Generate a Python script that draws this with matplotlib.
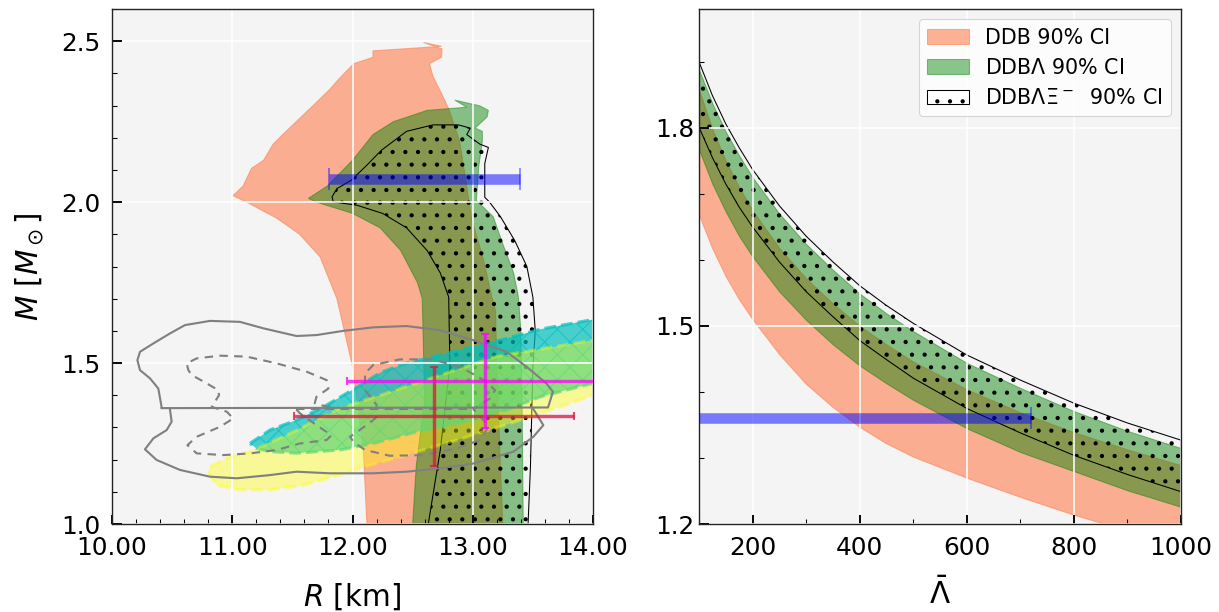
import numpy as np
import matplotlib
matplotlib.use("Agg")
import matplotlib.pyplot as plt
from matplotlib.patches import Patch
from matplotlib.ticker import MultipleLocator, FormatStrFormatter

# ---------------- left panel: M-R plane ----------------
# DDB 90% CI region (polygon R, M)
ddb_R = [12.12, 12.09, 12.00, 11.87, 11.73, 11.56, 11.37, 11.12, 11.006, 11.09, 11.16, 11.26,
         11.34, 11.42, 11.56, 11.70, 11.81, 11.88, 12.01, 12.17, 12.17, 12.74, 12.59, 12.745,
         12.74, 12.64, 12.67, 12.75, 12.80, 12.89, 12.95, 12.99, 13.09, 13.15, 13.19, 13.20,
         13.23, 13.25]
ddb_M = [1.00, 1.23, 1.49, 1.70, 1.83, 1.90, 1.95, 2.00, 2.02, 2.05, 2.105, 2.13,
         2.18, 2.21, 2.26, 2.31, 2.35, 2.38, 2.43, 2.45, 2.47, 2.484, 2.496, 2.476,
         2.45, 2.43, 2.39, 2.33, 2.29, 2.19, 2.05, 1.95, 1.82, 1.72, 1.66, 1.49,
         1.18, 1.00]

# DDBLambda 90% CI region
ddbl_R = [12.50, 12.53, 12.60, 12.58, 12.54, 12.40, 12.23, 12.00, 11.70, 11.633, 11.79, 12.00,
          12.17, 12.34, 12.62, 12.95, 12.85, 13.06, 13.13, 13.12, 13.02, 13.08, 13.08, 13.05,
          13.03, 13.17, 13.25, 13.34, 13.38, 13.40, 13.41, 13.42]
ddbl_M = [1.00, 1.18, 1.385, 1.70, 1.75, 1.85, 1.92, 1.965, 2.00, 2.0115, 2.05, 2.13,
          2.21, 2.25, 2.285, 2.295, 2.317, 2.299, 2.285, 2.265, 2.23, 2.22, 2.19, 2.11,
          2.005, 1.955, 1.87, 1.78, 1.705, 1.60, 1.385, 1.00]

# DDBLambdaXi- 90% CI region
ddblx_R = [12.63, 12.73, 12.81, 12.80, 12.73, 12.62, 12.45, 12.25, 12.04, 11.84, 11.83, 11.87,
           11.99, 12.12, 12.24, 12.45, 12.67, 12.88, 12.98, 12.95, 13.06, 13.13, 13.10, 13.10,
           13.14, 13.23, 13.35, 13.45, 13.50, 13.52, 13.50, 13.48, 13.46]
ddblx_M = [1.00, 1.23, 1.49, 1.705, 1.78, 1.85, 1.92, 1.965, 1.99, 2.001, 2.0165, 2.042,
           2.068, 2.115, 2.161, 2.22, 2.24, 2.24, 2.23, 2.21, 2.18, 2.17, 2.12, 2.015,
           2.00, 1.955, 1.88, 1.80, 1.705, 1.60, 1.49, 1.18, 1.00]

# cyan (hatched) credible ellipse
cyan_R = [11.148, 11.314, 11.535, 11.757, 12.06, 12.23, 12.45, 12.73, 13.0, 13.19, 13.56, 13.975,
          14.3, 14.3, 13.975, 13.56, 13.28, 13.0, 12.59, 12.17, 11.896, 11.535, 11.314, 11.2]
cyan_M = [1.2506, 1.292, 1.323, 1.3634, 1.43, 1.47, 1.50, 1.525, 1.55, 1.567, 1.605, 1.6335,
          1.655, 1.46, 1.435, 1.395, 1.354, 1.323, 1.292, 1.25, 1.23, 1.22, 1.225, 1.235]

# yellow credible ellipse
yel_R = [10.80, 10.87, 11.064, 11.31, 11.59, 11.87, 12.10, 12.40, 12.95, 13.50, 14.0, 14.3,
         14.3, 14.0, 13.19, 12.23, 11.9, 11.5, 11.15, 10.98, 10.815]
yel_M = [1.16, 1.121, 1.106, 1.106, 1.12, 1.15, 1.178, 1.209, 1.27, 1.335, 1.40, 1.44,
         1.59, 1.571, 1.52, 1.40, 1.36, 1.285, 1.2245, 1.209, 1.178]

# gray solid contour (two pieces)
gs1_R = [10.413, 10.385, 10.316, 10.233, 10.211, 10.233, 10.344, 10.482, 10.607, 10.815, 11.064,
         11.258, 11.535, 11.701, 11.923, 12.173, 12.45, 12.73, 13.005, 13.28, 13.446, 13.612,
         13.667, 13.626, 10.413]
gs1_M = [1.3625, 1.421, 1.4525, 1.478, 1.509, 1.535, 1.561, 1.592, 1.618, 1.631, 1.628,
         1.608, 1.584, 1.587, 1.600, 1.611, 1.615, 1.602, 1.571, 1.535, 1.489, 1.437,
         1.411, 1.362, 1.360]
gs2_R = [10.482, 10.496, 10.455, 10.344, 10.274, 10.371, 10.565, 10.815, 11.037, 11.314, 11.535,
         11.813, 12.173, 12.45, 12.73, 13.005, 13.337, 13.504, 13.587, 13.504]
gs2_M = [1.356, 1.318, 1.292, 1.266, 1.232, 1.199, 1.168, 1.147, 1.142, 1.152, 1.1625,
         1.1575, 1.1575, 1.1625, 1.173, 1.188, 1.2245, 1.271, 1.307, 1.357]

# gray dashed contour (pieces)
gd1_R = [11.81, 11.686, 11.70, 11.80, 11.785, 11.62, 11.37, 11.12, 10.898, 10.704, 10.621, 10.635,
         10.662, 10.787, 10.883, 10.89, 10.829, 10.954, 11.009, 10.898, 10.704, 10.627, 10.704,
         10.925, 11.15, 11.37, 11.56, 11.785, 11.826, 11.70, 11.56, 11.53]
gd1_M = [1.362, 1.375, 1.395, 1.421, 1.447, 1.473, 1.499, 1.52, 1.523, 1.5145, 1.499, 1.478,
         1.463, 1.437, 1.416, 1.40, 1.364, 1.349, 1.328, 1.302, 1.271, 1.245, 1.2195,
         1.214, 1.2195, 1.23, 1.25, 1.261, 1.276, 1.307, 1.345, 1.357]
gd2_R = [12.20, 12.173, 12.06, 11.98, 12.007, 12.104, 12.31, 12.589, 12.866, 13.06, 13.13, 13.088,
         13.005, 13.06, 13.143, 13.185, 13.115, 12.92, 12.672, 12.395, 12.173, 12.104, 12.104,
         12.20, 12.20]
gd2_M = [1.333, 1.323, 1.292, 1.271, 1.2556, 1.23, 1.212, 1.214, 1.235, 1.261, 1.302, 1.323,
         1.357, 1.37, 1.39, 1.416, 1.442, 1.4835, 1.5115, 1.5115, 1.494, 1.468, 1.416,
         1.37, 1.333]
gd3_R = [11.53, 13.005]
gd3_M = [1.357, 1.357]

# observational error bars: (R, M, R-, R+, M-, M+)
j0740 = (12.60, 2.072, 0.795, 0.795)
riley = (12.68, 1.335, 1.164, 1.165, 0.155, 0.153)
miller = (13.10, 1.444, 1.143, 1.20, 0.145, 0.145)

# ---------------- right panel: M vs tidal deformability ----------------
lam = [100, 125, 150, 175, 200, 250, 300, 350, 400, 450, 500, 600, 700, 800, 900, 1000]
ddb_lo = [1.668, 1.617, 1.575, 1.540, 1.510, 1.457, 1.412, 1.377, 1.347, 1.322, 1.302,
          1.270, 1.241, 1.214, 1.190, 1.169]
ddb_hi = [1.858, 1.798, 1.750, 1.710, 1.675, 1.618, 1.572, 1.534, 1.500, 1.472, 1.446,
          1.404, 1.369, 1.339, 1.313, 1.289]
ddbl_lo = [1.767, 1.715, 1.673, 1.636, 1.605, 1.552, 1.509, 1.472, 1.440, 1.413, 1.388,
           1.345, 1.309, 1.280, 1.251, 1.226]
ddbl_hi = [1.888, 1.837, 1.794, 1.758, 1.725, 1.670, 1.624, 1.585, 1.549, 1.519, 1.492,
           1.444, 1.406, 1.371, 1.341, 1.315]
ddblx_lo = [1.801, 1.755, 1.715, 1.680, 1.650, 1.597, 1.552, 1.514, 1.478, 1.449, 1.421,
            1.375, 1.338, 1.304, 1.275, 1.249]
ddblx_hi = [1.900, 1.849, 1.806, 1.770, 1.737, 1.682, 1.636, 1.597, 1.561, 1.531, 1.504,
            1.456, 1.418, 1.383, 1.353, 1.327]
gw_lam, gw_M, gw_lo, gw_hi = 300, 1.36, 230, 420

labels = ["DDB 90% CI", "DDB$\\Lambda$ 90% CI", "DDB$\\Lambda\\Xi^-$  90% CI"]

# ---------------- styling ----------------
plt.rcParams['font.family'] = ['DejaVu Sans']
plt.rcParams['mathtext.fontset'] = 'dejavusans'
DPI = 76
fig = plt.figure(figsize=(1219 / DPI, 612 / DPI), dpi=DPI)
axL = fig.add_axes([112 / 1219, 88 / 612, 481 / 1219, 515 / 612])
axR = fig.add_axes([699 / 1219, 88 / 612, 482 / 1219, 515 / 612])

SAL = 'coral'
GRN = 'green'
TICK_FS = 23.5
LAB_FS = 28

for ax in (axL, axR):
    ax.set_facecolor('#f4f4f4')
    ax.grid(True, which='major', color='white', lw=1.5)
    ax.set_axisbelow('line')
    for s in ax.spines.values():
        s.set_linewidth(1.3)
        s.set_color('#222222')
    ax.tick_params(which='both', direction='in', top=False, right=False,
                   labelsize=TICK_FS)
    ax.tick_params(which='major', length=9, width=1.8)
    ax.tick_params(which='minor', length=5, width=1.0)

# ---- left ----
axL.fill(ddb_R, ddb_M, color=SAL, alpha=0.6, lw=1, zorder=1)
axL.fill(ddbl_R, ddbl_M, color=GRN, alpha=0.45, lw=1, zorder=1.1)
plt.rcParams['hatch.linewidth'] = 1.6
axL.fill(ddblx_R, ddblx_M, facecolor='none', edgecolor='k', hatch='.', lw=1.0, zorder=1.2)
plt.rcParams['hatch.linewidth'] = 1.0
axL.fill(cyan_R, cyan_M, facecolor='c', edgecolor='c', alpha=0.7, hatch='x',
         lw=3, ls='--', zorder=1.3)
axL.fill(yel_R, yel_M, facecolor='yellow', edgecolor='yellow', alpha=0.38,
         lw=3, ls='--', zorder=1.4)
axL.plot(gs1_R, gs1_M, color='gray', lw=2, zorder=2)
axL.plot(gs2_R, gs2_M, color='gray', lw=2, zorder=2)
for r, m in ((gd1_R, gd1_M), (gd2_R, gd2_M), (gd3_R, gd3_M)):
    axL.plot(r, m, color='gray', lw=2, ls=(0, (4, 3)), zorder=2)

axL.errorbar(j0740[0], j0740[1], xerr=[[j0740[2]], [j0740[3]]], fmt='none',
             ecolor='blue', alpha=0.5, elinewidth=10, capsize=10, capthick=1.5, zorder=3)
axL.errorbar(riley[0], riley[1], xerr=[[riley[2]], [riley[3]]],
             yerr=[[riley[4]], [riley[5]]], fmt='none', ecolor='crimson', alpha=0.75,
             elinewidth=3.2, capsize=4, capthick=2, zorder=3)
axL.errorbar(miller[0], miller[1], xerr=[[miller[2]], [miller[3]]],
             yerr=[[miller[4]], [miller[5]]], fmt='none', ecolor='magenta', alpha=0.75,
             elinewidth=3.2, capsize=4, capthick=2, zorder=3)

axL.set_xlim(10, 14)
axL.set_ylim(1.0, 2.6)
axL.xaxis.set_major_locator(MultipleLocator(1.0))
axL.xaxis.set_minor_locator(MultipleLocator(0.2))
axL.yaxis.set_major_locator(MultipleLocator(0.5))
axL.yaxis.set_minor_locator(MultipleLocator(0.1))
axL.xaxis.set_major_formatter(FormatStrFormatter('%.2f'))
axL.yaxis.set_major_formatter(FormatStrFormatter('%.1f'))
axL.tick_params(axis='x', pad=11)
axL.tick_params(axis='y', pad=11)
axL.set_xlabel('$R$ [km]', fontsize=LAB_FS, labelpad=21)
axL.set_ylabel('$M$ [$M_\\odot$]', fontsize=LAB_FS, labelpad=14)

# ---- right ----
axR.fill_between(lam, ddb_lo, ddb_hi, color=SAL, alpha=0.6, lw=1, zorder=1)
axR.fill_between(lam, ddbl_lo, ddbl_hi, color=GRN, alpha=0.45, lw=1, zorder=1.1)
plt.rcParams['hatch.linewidth'] = 1.6
axR.fill_between(lam, ddblx_lo, ddblx_hi, facecolor='none', edgecolor='k', hatch='.',
                 lw=1.0, zorder=1.2)
axR.errorbar(gw_lam, gw_M, xerr=[[gw_lo], [gw_hi]], fmt='none', ecolor='blue', alpha=0.5,
             elinewidth=10, capsize=10, capthick=1.5, zorder=3)
axR.set_xlim(100, 1000)
axR.set_ylim(1.2, 1.98)
axR.xaxis.set_major_locator(MultipleLocator(200))
axR.xaxis.set_minor_locator(MultipleLocator(100))
axR.yaxis.set_major_locator(MultipleLocator(0.3))
axR.yaxis.set_minor_locator(MultipleLocator(0.1))
axR.yaxis.set_major_formatter(FormatStrFormatter('%.1f'))
axR.tick_params(axis='x', pad=11)
axR.tick_params(axis='y', pad=4)
axR.set_xlabel('$\\bar{\\Lambda}$', fontsize=LAB_FS, labelpad=17)

handles = [Patch(facecolor=SAL, edgecolor=SAL, alpha=0.6, label=labels[0]),
           Patch(facecolor=GRN, edgecolor=GRN, alpha=0.45, label=labels[1]),
           Patch(facecolor='white', edgecolor='k', hatch='.', label=labels[2])]
axR.legend(handles=handles, loc='upper right', fontsize=19.5, framealpha=0.8)

fig.savefig('out.png', dpi=DPI)
